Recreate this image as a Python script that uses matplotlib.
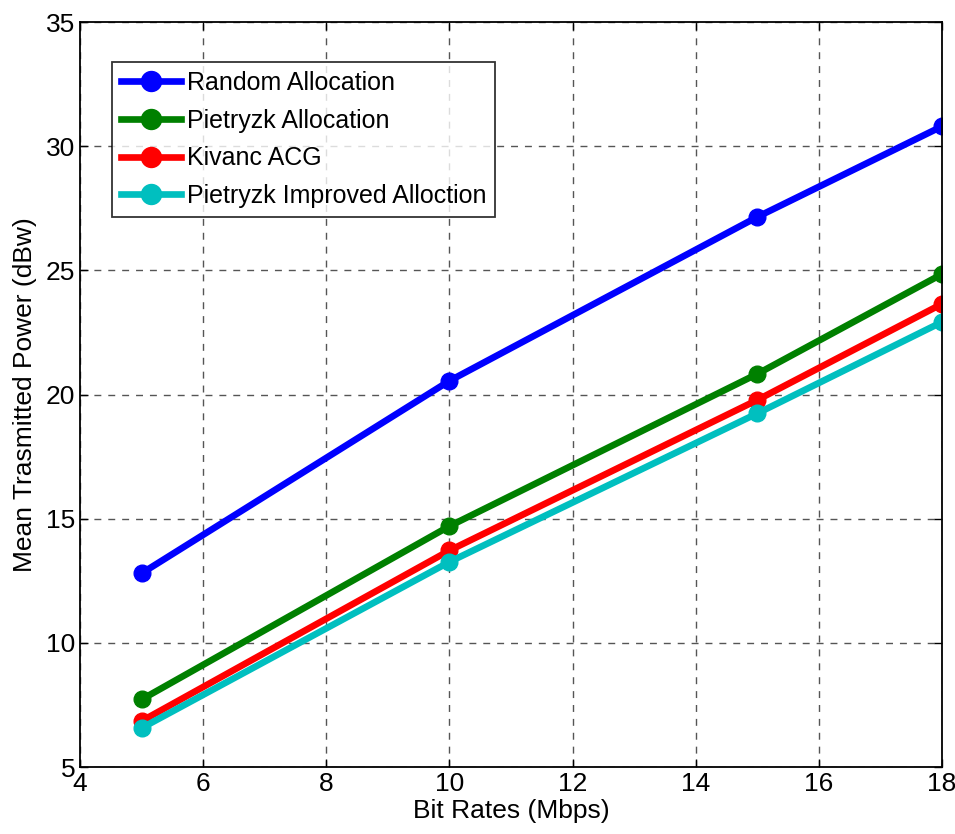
import matplotlib
matplotlib.use("Agg")
import matplotlib.pyplot as plt
from matplotlib import font_manager

# bit rates (Mbps) and mean transmitted power (dBw) per allocation scheme
bit_rates = [5, 10, 15, 18]
random_alloc = [12.8, 20.55, 27.15, 30.8]
pietryzk_alloc = [7.72, 14.7, 20.83, 24.85]
kivanc_acg = [6.85, 13.72, 19.78, 23.65]
pietryzk_improved = [6.57, 13.26, 19.24, 22.92]

names = ["Random Allocation", "Pietryzk Allocation", "Kivanc ACG",
         "Pietryzk Improved Alloction"]
colors = ["#0000ff", "#008000", "#ff0000", "#00bfbf"]

installed = {f.name for f in font_manager.fontManager.ttflist}
fam = "Liberation Sans Narrow" if "Liberation Sans Narrow" in installed else "Liberation Sans"
plt.rcParams["font.family"] = [fam, "DejaVu Sans"]

fig = plt.figure(figsize=(9.55, 8.34), dpi=100)
ax = fig.add_axes([0.0838, 0.0803, 0.9026, 0.8933])

series = [random_alloc, pietryzk_alloc, kivanc_acg, pietryzk_improved]
for vals, name, c in zip(series, names, colors):
    ax.plot(bit_rates, vals, "-o", color=c, lw=4.8, ms=12, label=name)

ax.set_xlim(4, 18)
ax.set_ylim(5, 35)
ax.set_xticks(range(4, 19, 2))
ax.set_yticks(range(5, 36, 5))
ax.tick_params(labelsize=19, direction="in", length=6, width=1,
               top=True, right=True)
ax.grid(True, linestyle=(0, (5, 5)), color="#555555", lw=1)
for s in ax.spines.values():
    s.set_linewidth(1.3)

ax.set_xlabel("Bit Rates (Mbps)", fontsize=19, labelpad=2)
ax.set_ylabel("Mean Trasmitted Power (dBw)", fontsize=19, labelpad=6)

leg = ax.legend(loc="upper left", bbox_to_anchor=(0.037, 0.946), fontsize=18,
                frameon=True, fancybox=False, edgecolor="black",
                borderaxespad=0, handlelength=2.4, handletextpad=0.25,
                borderpad=0.35, labelspacing=0.55, markerscale=1.2)
leg.get_frame().set_linewidth(1.3)

fig.savefig("out.png", dpi=100)
